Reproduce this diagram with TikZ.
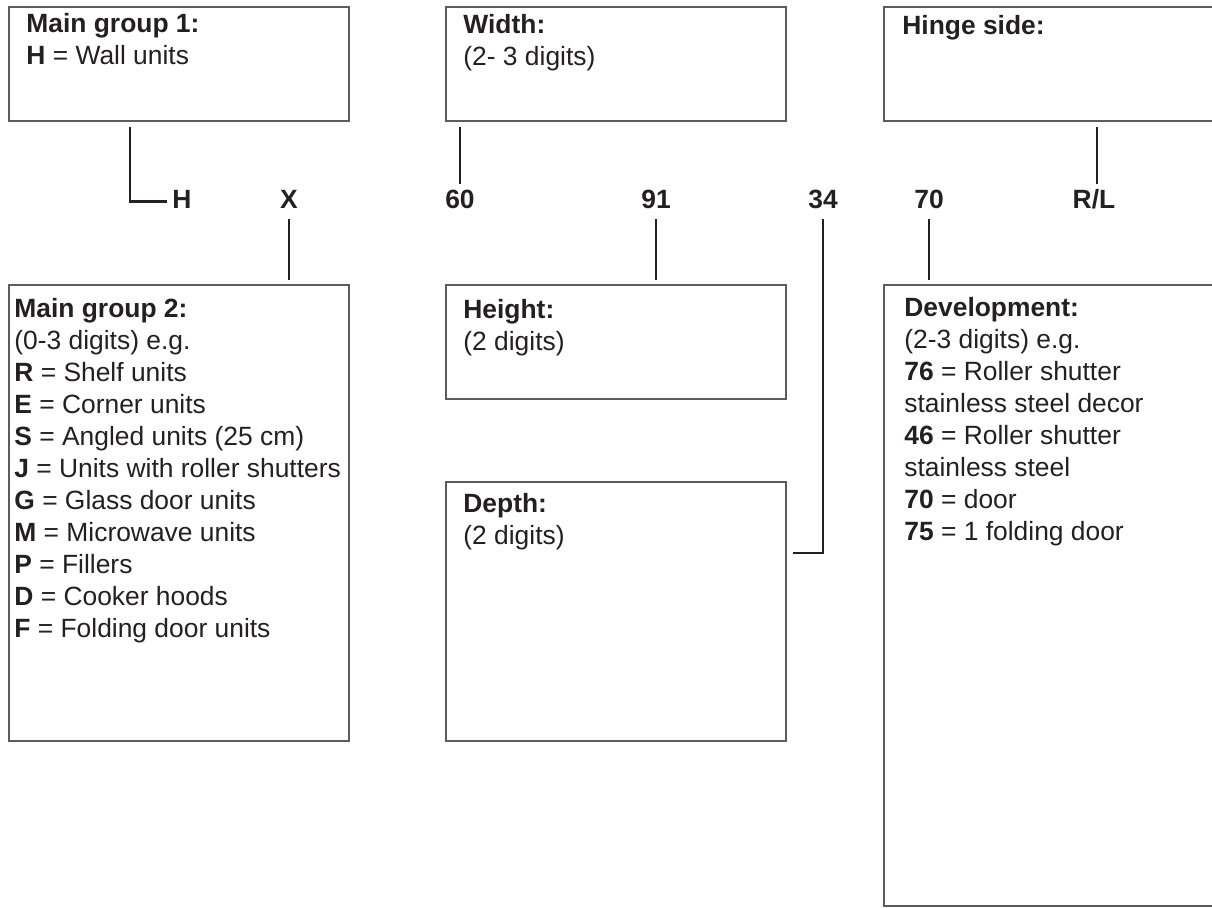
\documentclass[tikz,border=0pt]{standalone}
\usepackage{fontspec}
\setmainfont{Liberation Sans}
\usepackage{xcolor}
\usepackage{tikz}
\usetikzlibrary{positioning, calc}
\definecolor{mytext}{rgb}{0.14, 0.12, 0.13}
\definecolor{myframe}{rgb}{0.36, 0.36, 0.36}
\tikzstyle{conn} = [line width=1.2pt, draw=mytext]

\begin{document}
\begin{tikzpicture}[
    x=0.5pt, y=-0.5pt,
    box/.style={
        rectangle,
        draw=myframe,
        line width=0.8pt,
        anchor=north west,
        inner sep=0pt,
        minimum width=170pt
    },
    boxtext/.style={
        anchor=north west,
        inner sep=0pt,
        align=left,
        text=mytext,
        font=\fontsize{13.2}{16}\selectfont
    },
    code/.style={
        anchor=base,
        inner sep=2.5pt,
        text height=9.4pt,
        text depth=3pt,
        text=mytext,
        font=\fontsize{13.2}{16}\selectfont\bfseries
    }
]
    \useasboundingbox (0,0) rectangle (1212,907);
    \clip (0,0) rectangle (1212,907);

    % upper row
    \node[box, minimum height=57pt] (group1) at (8,6) {};
    \node[box, minimum height=57pt] (width) at (445,6) {};
    \node[box, minimum height=57pt, minimum width=175pt] (hinge) at (883,6) {};

    % lower row
    \node[box, minimum height=228pt] (group2) at (8,284) {};
    \node[box, minimum height=57pt] (height) at (445,284) {};
    \node[box, minimum height=129.5pt] (depth) at (445,481) {};
    \node[box, minimum height=310.5pt, minimum width=175pt] (devel) at (883,284) {};

    \node[boxtext] (group1txt) at ([shift={(18,7)}]group1.north west)
        {\textbf{Main group 1:}\\\textbf{H} = Wall units};
    \node[boxtext] (widthtxt) at ([shift={(18,7.5)}]width.north west)
        {\textbf{Width:}\\(2- 3 digits)};
    \node[boxtext] (hingetxt) at ([shift={(19,8.5)}]hinge.north west)
        {\textbf{Hinge side:}};
    \node[boxtext] (group2txt) at ([shift={(6,13.5)}]group2.north west)
        {\textbf{Main group 2:}\\
         (0-3 digits) e.g.\\
         \textbf{R} = Shelf units\\
         \textbf{E} = Corner units\\
         \textbf{S} = Angled units (25 cm)\\
         \textbf{J} = Units with roller shutters\\
         \textbf{G} = Glass door units\\
         \textbf{M} = Microwave units\\
         \textbf{P} = Fillers\\
         \textbf{D} = Cooker hoods\\
         \textbf{F} = Folding door units};
    \node[boxtext] (heighttxt) at ([shift={(18,15)}]height.north west)
        {\textbf{Height:}\\(2 digits)};
    \node[boxtext] (depthtxt) at ([shift={(18,12)}]depth.north west)
        {\textbf{Depth:}\\(2 digits)};
    \node[boxtext] (develtxt) at ([shift={(21,13)}]devel.north west)
        {\textbf{Development:}\\
         (2-3 digits) e.g.\\
         \textbf{76} = Roller shutter\\
         stainless steel decor\\
         \textbf{46} = Roller shutter\\
         stainless steel\\
         \textbf{70} = door\\
         \textbf{75} = 1 folding door};

    % the code
    \node[code] (codeH) at (182,208) {H};
    \node[code] (codeX) at (289,208) {X};
    \node[code] (code60) at (460,208) {60};
    \node[code] (code91) at (656,208) {91};
    \node[code] (code34) at (823,208) {34};
    \node[code] (code70) at (929,208) {70};
    \node[code] (codeRL) at (1094,208) {R/L};

    \draw[conn, shorten <=2.5pt] ([xshift=61pt]group1.south west) |- (codeH.west);
    \draw[conn, shorten >=2pt] (codeX.south) -- (codeX.south |- group2.north);
    \draw[conn, shorten >=2.5pt] (code60.north) -- (code60.north |- width.south);
    \draw[conn, shorten >=2pt] (code91.south) -- (code91.south |- height.north);
    \draw[conn, shorten >=3pt] (code34.south) |- ([yshift=-36pt]depth.north east);
    \draw[conn, shorten >=2pt] (code70.south) -- (code70.south |- devel.north);
    \draw[conn, shorten >=2.5pt] ([xshift=1.5pt]codeRL.north) -- ([xshift=1.5pt]codeRL.north |- hinge.south);
\end{tikzpicture}
\end{document}
